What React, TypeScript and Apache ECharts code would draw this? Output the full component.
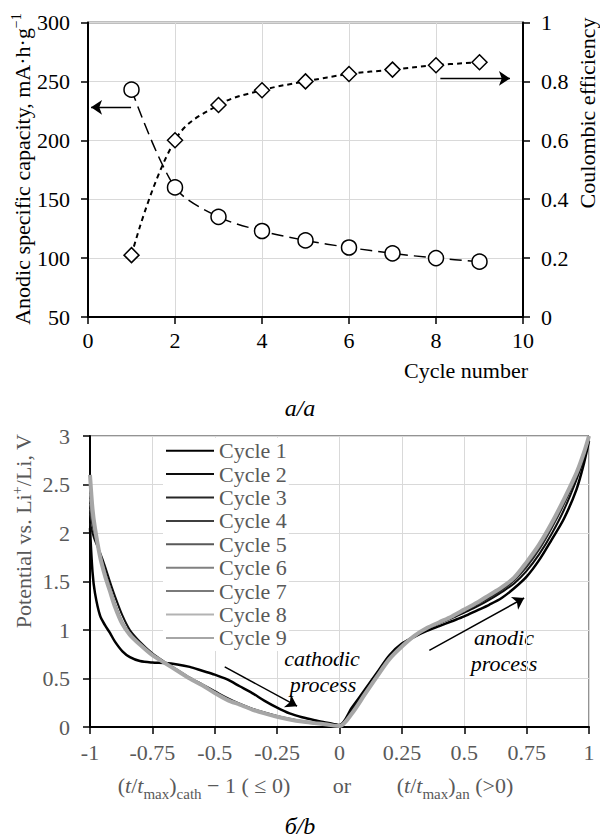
import React, { useEffect, useRef } from 'react';
import * as echarts from 'echarts';

const FONT = "'Liberation Serif', 'Times New Roman', serif";

// ---- Chart a: cycling performance ----
const CYCLE_NUMBERS = [1, 2, 3, 4, 5, 6, 7, 8, 9];
const CAPACITY = [243, 160, 135, 123, 115, 109, 104, 100, 97];
const EFFICIENCY = [0.21, 0.6, 0.72, 0.77, 0.8, 0.825, 0.84, 0.855, 0.865];

// ---- Chart b: potential profiles ----
const T_NORM = [
  -1, -0.99, -0.98, -0.96, -0.94, -0.92, -0.9, -0.87, -0.84, -0.8, -0.75, -0.7, -0.65,
  -0.6, -0.55, -0.5, -0.45, -0.4, -0.35, -0.3, -0.25, -0.2, -0.15, -0.1, -0.05, 0,
  0.05, 0.1, 0.15, 0.2, 0.25, 0.3, 0.35, 0.4, 0.45, 0.5, 0.55, 0.6, 0.65, 0.7, 0.75,
  0.8, 0.85, 0.9, 0.95, 0.98, 1,
];
const CYCLE_1 = [
  2.05, 1.6, 1.38, 1.15, 1.05, 0.97, 0.88, 0.78, 0.72, 0.68, 0.665, 0.66, 0.645,
  0.62, 0.58, 0.54, 0.49, 0.42, 0.35, 0.27, 0.2, 0.14, 0.1, 0.07, 0.045, 0.02,
  0.2, 0.38, 0.56, 0.74, 0.86, 0.93, 0.99, 1.04, 1.09, 1.14, 1.2, 1.26, 1.33, 1.43, 1.55,
  1.72, 1.93, 2.15, 2.45, 2.72, 2.95,
];
const CYCLE_2 = [
  2.1, 2.0, 1.92, 1.8, 1.66, 1.5, 1.35, 1.15, 1.0, 0.88, 0.76, 0.67, 0.59,
  0.51, 0.44, 0.37, 0.3, 0.24, 0.19, 0.15, 0.115, 0.085, 0.06, 0.045, 0.03, 0.015,
  0.18, 0.36, 0.54, 0.72, 0.85, 0.94, 1.01, 1.07, 1.12, 1.18, 1.24, 1.31, 1.39, 1.48, 1.61,
  1.78, 1.99, 2.24, 2.55, 2.78, 2.98,
];
const CYCLE_3 = [
  2.2, 2.08, 1.98, 1.78, 1.6, 1.43, 1.27, 1.08, 0.96, 0.85, 0.74, 0.66, 0.58,
  0.5, 0.43, 0.36, 0.29, 0.235, 0.185, 0.145, 0.11, 0.08, 0.058, 0.042, 0.027, 0.012,
  0.16, 0.35, 0.53, 0.71, 0.84, 0.94, 1.01, 1.07, 1.13, 1.19, 1.26, 1.33, 1.41, 1.51, 1.65,
  1.83, 2.05, 2.3, 2.59, 2.81, 3.0,
];
const CYCLE_4 = [
  2.25, 2.1, 1.99, 1.78, 1.59, 1.42, 1.26, 1.07, 0.96, 0.85, 0.74, 0.66, 0.58,
  0.5, 0.43, 0.355, 0.285, 0.232, 0.183, 0.143, 0.108, 0.079, 0.057, 0.041, 0.026, 0.011,
  0.155, 0.345, 0.53, 0.705, 0.835, 0.94, 1.015, 1.075, 1.135, 1.2, 1.27, 1.345, 1.425, 1.525, 1.67,
  1.85, 2.07, 2.32, 2.6, 2.82, 3.0,
];
const CYCLE_5 = [
  2.3, 2.13, 2.01, 1.77, 1.58, 1.41, 1.25, 1.07, 0.95, 0.85, 0.74, 0.66, 0.58,
  0.5, 0.43, 0.35, 0.283, 0.23, 0.182, 0.142, 0.107, 0.079, 0.057, 0.041, 0.026, 0.011,
  0.15, 0.34, 0.525, 0.7, 0.832, 0.94, 1.018, 1.078, 1.138, 1.205, 1.275, 1.352, 1.432, 1.532, 1.685,
  1.865, 2.085, 2.335, 2.61, 2.825, 3.0,
];
const CYCLE_6 = [
  2.35, 2.16, 2.02, 1.77, 1.57, 1.41, 1.25, 1.06, 0.95, 0.85, 0.74, 0.66, 0.58,
  0.5, 0.43, 0.35, 0.282, 0.23, 0.181, 0.141, 0.106, 0.078, 0.056, 0.04, 0.025, 0.01,
  0.148, 0.337, 0.523, 0.7, 0.831, 0.94, 1.019, 1.079, 1.139, 1.207, 1.277, 1.355, 1.435, 1.535, 1.69,
  1.87, 2.09, 2.34, 2.615, 2.828, 3.0,
];
const CYCLE_7 = [
  2.4, 2.19, 2.03, 1.77, 1.57, 1.4, 1.24, 1.06, 0.95, 0.85, 0.74, 0.66, 0.58,
  0.5, 0.43, 0.35, 0.281, 0.23, 0.18, 0.14, 0.105, 0.078, 0.056, 0.04, 0.025, 0.01,
  0.145, 0.335, 0.522, 0.7, 0.83, 0.94, 1.02, 1.08, 1.14, 1.208, 1.278, 1.357, 1.437, 1.537, 1.695,
  1.875, 2.095, 2.345, 2.618, 2.83, 3.0,
];
const CYCLE_8 = [
  2.5, 2.22, 2.04, 1.76, 1.56, 1.4, 1.24, 1.06, 0.95, 0.85, 0.74, 0.66, 0.58,
  0.5, 0.43, 0.35, 0.28, 0.23, 0.18, 0.14, 0.105, 0.078, 0.056, 0.04, 0.025, 0.01,
  0.142, 0.332, 0.521, 0.7, 0.83, 0.94, 1.02, 1.08, 1.14, 1.21, 1.28, 1.36, 1.44, 1.54, 1.7,
  1.88, 2.1, 2.35, 2.62, 2.83, 3.0,
];
const CYCLE_9 = [
  2.6, 2.25, 2.05, 1.76, 1.56, 1.4, 1.24, 1.06, 0.95, 0.85, 0.74, 0.66, 0.58,
  0.5, 0.43, 0.35, 0.28, 0.23, 0.18, 0.14, 0.105, 0.078, 0.056, 0.04, 0.025, 0.01,
  0.14, 0.33, 0.52, 0.7, 0.83, 0.94, 1.02, 1.08, 1.14, 1.21, 1.28, 1.36, 1.44, 1.54, 1.7,
  1.88, 2.1, 2.35, 2.62, 2.83, 3.0,
];
const CURVES = [CYCLE_1, CYCLE_2, CYCLE_3, CYCLE_4, CYCLE_5, CYCLE_6, CYCLE_7, CYCLE_8, CYCLE_9];
const CYCLE_NAMES = ['Cycle 1', 'Cycle 2', 'Cycle 3', 'Cycle 4', 'Cycle 5', 'Cycle 6', 'Cycle 7', 'Cycle 8', 'Cycle 9'];

// Annotation arrows (data coordinates)
const ARROW_CAPACITY = [[0.99, 228], [0.07, 228]];
const ARROW_EFFICIENCY = [[8.1, 0.81], [9.7, 0.81]];
const ARROW_CATHODIC = [[-0.46, 0.62], [-0.17, 0.215]];
const ARROW_ANODIC = [[0.36, 0.79], [0.74, 1.33]];

const LINE_COLORS = ['#000000', '#0d0d0d', '#262626', '#3f3f3f', '#595959', '#808080', '#7a7a7a', '#b3b3b3', '#a6a6a6'];
const LINE_WIDTHS = [2.5, 2, 2, 2, 2, 2, 2, 2, 4];

function arrowMark(pairs: number[][][], width = 1.3) {
  return {
    silent: true,
    symbol: ['none', 'arrow'],
    symbolSize: 11,
    lineStyle: { color: '#000', width, type: 'solid' },
    label: { show: false },
    emphasis: { disabled: true },
    data: pairs.map((p) => [{ coord: p[0] }, { coord: p[1] }]),
  };
}

export default function App() {
  const ref = useRef<HTMLDivElement>(null);
  useEffect(() => {
    document.body.style.margin = '0';
    if (!ref.current) return;
    const chart = echarts.init(ref.current, undefined, { renderer: 'svg' });

    const axisBase = (color: string, margin: number) => ({
      axisLine: { show: true, onZero: false, lineStyle: { color: '#000', width: 2 } },
      axisTick: { show: true, inside: false, length: 7, lineStyle: { color: '#000', width: 1.5 } },
      splitLine: { show: true, lineStyle: { color: '#d9d9d9', width: 1 } },
      axisLabel: { color, fontSize: 22, fontFamily: FONT, margin },
    });

    const norm = { fontFamily: FONT, fontSize: 22 };
    const ital = { fontFamily: FONT, fontSize: 22, fontStyle: 'italic', fill: '#000', align: 'center', verticalAlign: 'middle' };
    const option: any = {
      animation: false,
      textStyle: { fontFamily: FONT },
      grid: [
        { left: 88, right: 77, top: 22.5, height: 294.5, show: true, borderColor: '#000', borderWidth: 1.5 },
        { left: 90, right: 11, top: 436, height: 291, show: true, borderColor: '#262626', borderWidth: 1 },
      ],
      xAxis: [
        { gridIndex: 0, type: 'value', min: 0, max: 10, interval: 2, ...axisBase('#000', 12) },
        { gridIndex: 1, type: 'value', min: -1, max: 1, interval: 0.25, ...axisBase('#595959', 14) },
      ],
      yAxis: [
        { gridIndex: 0, type: 'value', position: 'left', min: 50, max: 300, interval: 50, ...axisBase('#000', 18) },
        { gridIndex: 0, type: 'value', position: 'right', min: 0, max: 1, interval: 0.2, ...axisBase('#000', 18), splitLine: { show: false } },
        { gridIndex: 1, type: 'value', position: 'left', min: 0, max: 3, interval: 0.5, ...axisBase('#595959', 20) },
      ],
      legend: {
        data: CYCLE_NAMES,
        orient: 'vertical',
        left: 163,
        top: 437.7,
        padding: 2,
        itemWidth: 48,
        itemHeight: 12,
        itemGap: 1.4,
        backgroundColor: '#fff',
        selectedMode: false,
        itemStyle: { opacity: 0 },
        textStyle: { fontFamily: FONT, fontSize: 22, lineHeight: 22, color: '#595959' },
      },
      series: [
        {
          type: 'line',
          name: 'capacity',
          xAxisIndex: 0,
          yAxisIndex: 0,
          data: CYCLE_NUMBERS.map((c, i) => [c, CAPACITY[i]]),
          symbol: 'circle',
          symbolSize: 15,
          smooth: 0.3,
          itemStyle: { color: '#fff', borderColor: '#000', borderWidth: 1.5 },
          lineStyle: { color: '#000', width: 1.5, type: [12, 6] },
          emphasis: { disabled: true },
          markLine: arrowMark([ARROW_CAPACITY]),
        },
        {
          type: 'line',
          name: 'efficiency',
          xAxisIndex: 0,
          yAxisIndex: 1,
          data: CYCLE_NUMBERS.map((c, i) => [c, EFFICIENCY[i]]),
          symbol: 'diamond',
          symbolSize: 15,
          smooth: 0.4,
          itemStyle: { color: '#fff', borderColor: '#000', borderWidth: 1.5 },
          lineStyle: { color: '#000', width: 2, type: [5, 4] },
          emphasis: { disabled: true },
          markLine: arrowMark([ARROW_EFFICIENCY]),
        },
        ...CURVES.map((ys, i) => ({
          type: 'line',
          name: CYCLE_NAMES[i],
          xAxisIndex: 1,
          yAxisIndex: 2,
          data: T_NORM.map((t, j) => [t, ys[j]]),
          symbol: 'none',
          smooth: 0.3,
          lineStyle: { color: LINE_COLORS[i], width: LINE_WIDTHS[i] },
          itemStyle: { color: LINE_COLORS[i] },
          emphasis: { disabled: true },
        })),
        {
          type: 'line',
          name: 'arrows-b',
          xAxisIndex: 1,
          yAxisIndex: 2,
          data: [],
          symbol: 'none',
          markLine: arrowMark([ARROW_CATHODIC, ARROW_ANODIC], 1.5),
        },
      ],
      graphic: [
        { type: 'text', x: 528, y: 370, style: { text: 'Cycle number', ...norm, fill: '#000', align: 'right', verticalAlign: 'middle' } },
        { type: 'text', x: 300, y: 408, style: { ...ital, text: 'a/a', fontSize: 24 } },
        {
          type: 'text', x: 21, y: 169, rotation: Math.PI / 2,
          style: {
            text: '{n|Anodic specific capacity, mA·h·g}{sup|−1}',
            align: 'center', verticalAlign: 'middle', fill: '#000',
            rich: {
              n: { fontFamily: FONT, fontSize: 22, lineHeight: 24, verticalAlign: 'bottom', fill: '#000' },
              sup: { fontFamily: FONT, fontSize: 14, lineHeight: 14, verticalAlign: 'top', fill: '#000' },
            },
          },
        },
        { type: 'text', x: 587, y: 113, rotation: Math.PI / 2, style: { text: 'Coulombic efficiency', ...norm, fill: '#000', align: 'center', verticalAlign: 'middle' } },
        {
          type: 'text', x: 22, y: 531, rotation: Math.PI / 2,
          style: {
            text: '{n|Potential vs. Li}{sup|+}{n|/Li, V}',
            align: 'center', verticalAlign: 'middle', fill: '#595959',
            rich: {
              n: { fontFamily: FONT, fontSize: 22, lineHeight: 24, verticalAlign: 'bottom', fill: '#595959' },
              sup: { fontFamily: FONT, fontSize: 14, lineHeight: 14, verticalAlign: 'top', fill: '#595959' },
            },
          },
        },
        { type: 'text', x: 322, y: 658, style: { ...ital, text: 'cathodic' } },
        { type: 'text', x: 323, y: 684, style: { ...ital, text: 'process' } },
        { type: 'text', x: 504, y: 637, style: { ...ital, text: 'anodic' } },
        { type: 'text', x: 504, y: 663, style: { ...ital, text: 'process' } },
        ...[
          { x: 204, text: '{n|(}{i|t}{n|/}{i|t}{s|max}{n|)}{s|cath}{n| − 1 ( ≤ 0)}' },
          { x: 342, text: '{n|or}' },
          { x: 455, text: '{n|(}{i|t}{n|/}{i|t}{s|max}{n|)}{s|an}{n| (>0)}' },
        ].map((p) => ({
          type: 'text', x: p.x, y: 774,
          style: {
            text: p.text, align: 'center', verticalAlign: 'top', fill: '#595959',
            rich: {
              n: { fontFamily: FONT, fontSize: 22, lineHeight: 22, verticalAlign: 'top', fill: '#595959' },
              i: { fontFamily: FONT, fontSize: 22, lineHeight: 22, verticalAlign: 'top', fontStyle: 'italic', fill: '#595959' },
              s: { fontFamily: FONT, fontSize: 15, lineHeight: 27, verticalAlign: 'bottom', fill: '#595959' },
            },
          },
        })),
        { type: 'text', x: 300, y: 826, style: { ...ital, text: 'б/b', fontSize: 24 } },
      ],
    };
    chart.setOption(option);
    return () => chart.dispose();
  }, []);
  return <div ref={ref} style={{ width: 600, height: 840 }} />;
}
